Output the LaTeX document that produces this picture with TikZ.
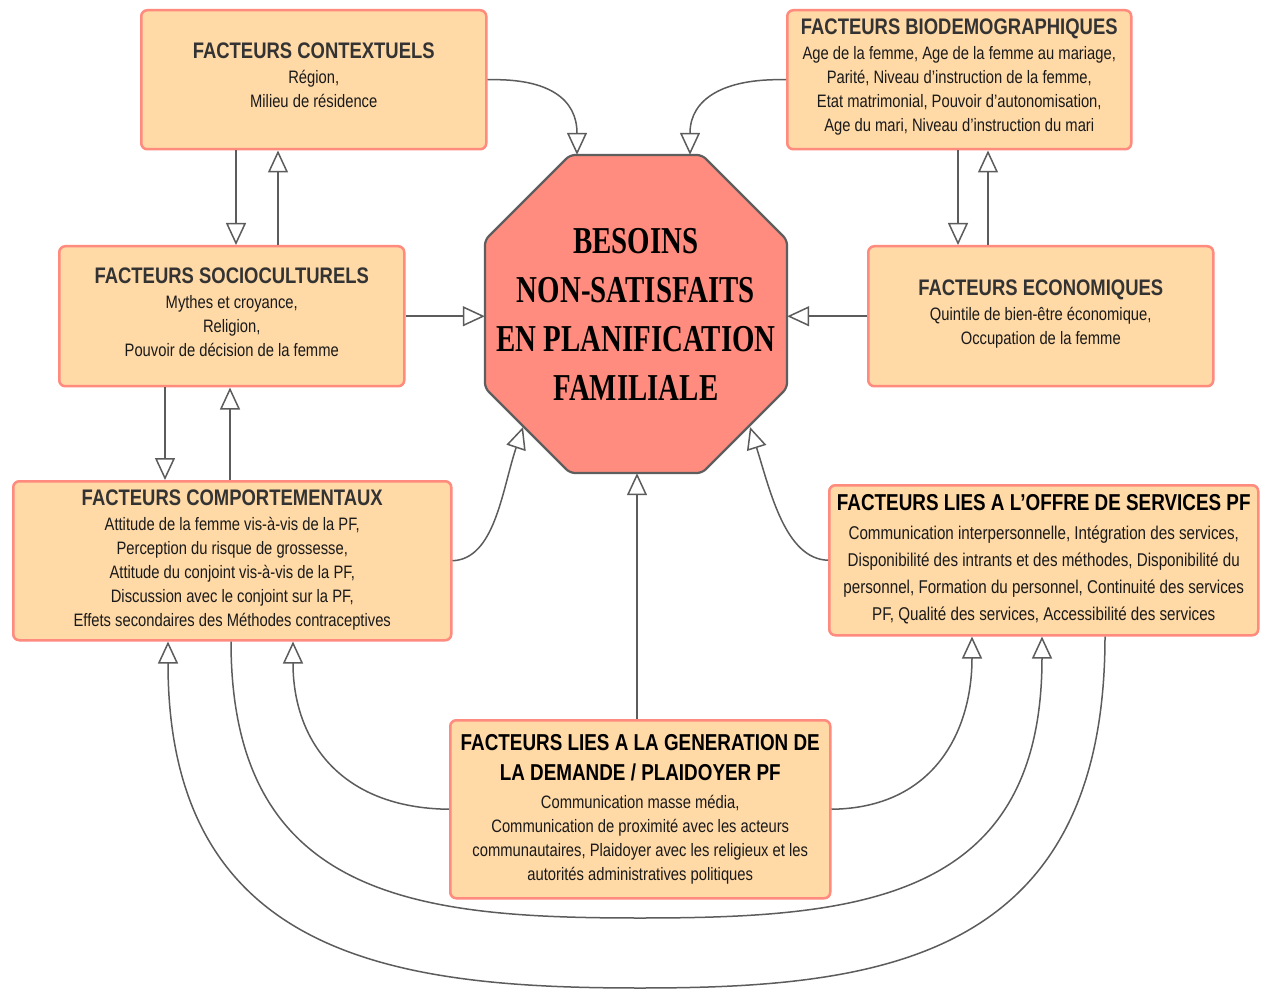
\documentclass[tikz,border=0pt]{standalone}
\usepackage{fontspec}
\setmainfont{Liberation Sans}
\newfontfamily\nar[FakeStretch=0.82]{Liberation Sans}
\newfontfamily\octf[FakeStretch=0.76]{Liberation Serif}
\usetikzlibrary{arrows.meta,calc}
\definecolor{boxfill}{HTML}{FFD9A6}
\definecolor{boxline}{HTML}{FF8A7E}
\definecolor{octfill}{HTML}{FF8C7E}
\definecolor{octline}{HTML}{5E5E5E}
\definecolor{linec}{HTML}{5C5C5C}
\definecolor{titlec}{HTML}{333333}
\definecolor{bodyc}{HTML}{1A1A1A}
\newcommand{\ttlg}{\fontsize{22.5}{27}\selectfont\bfseries\color{titlec}}
\newcommand{\ttlb}{\fontsize{23}{27}\selectfont\bfseries\color{black}}
\tikzset{
  box/.style={draw=boxline, fill=boxfill, line width=2.5pt, rounded corners=6pt,
    inner sep=0pt, anchor=north west},
  txt/.style={inner sep=0pt, align=center, text=bodyc,
    font=\nar\fontsize{18}{24}\selectfont},
  arr/.style={draw=linec, line width=1.5pt,
    -{Triangle[open, length=22pt, width=20pt]}},
}
\begin{document}
\begin{tikzpicture}[x=1pt,y=-1pt]
\useasboundingbox (0,0) rectangle (1267,992);
\fill[white] (0,0) rectangle (1267,992);

% boxes
\node[box, minimum width=345pt, minimum height=139pt] (ctx) at (140,9) {};
\node[txt] (ctxT) at ($(ctx.center)+(0,-5)$)
 {{\ttlg FACTEURS CONTEXTUELS}\\[1pt] Région,\\ Milieu de résidence};
\node[box, minimum width=344pt, minimum height=139pt] (bio) at (786,9) {};
\node[txt] (bioT) at ($(bio.center)+(0,-3)$)
 {{\ttlg FACTEURS BIODEMOGRAPHIQUES}\\[1pt] Age de la femme, Age de la femme au mariage,\\
  Parité, Niveau d’instruction de la femme,\\ Etat matrimonial, Pouvoir d’autonomisation,\\
  Age du mari, Niveau d’instruction du mari};
\node[box, minimum width=345pt, minimum height=140pt] (soc) at (58,245) {};
\node[txt] (socT) at ($(soc.center)+(0,-4)$)
 {{\ttlg FACTEURS SOCIOCULTURELS}\\[1pt] Mythes et croyance,\\ Religion,\\ Pouvoir de décision de la femme};
\node[box, minimum width=345pt, minimum height=140pt] (eco) at (867,245) {};
\node[txt] (ecoT) at ($(eco.center)+(0,-2)$)
 {{\ttlg FACTEURS ECONOMIQUES}\\[1pt] Quintile de bien-être économique,\\ Occupation de la femme};
\node[box, minimum width=438pt, minimum height=159pt] (com) at (12,480) {};
\node[txt] (comT) at ($(com.center)+(0,-0.5)$)
 {{\ttlg FACTEURS COMPORTEMENTAUX}\\[1pt] Attitude de la femme vis-à-vis de la PF,\\
  Perception du risque de grossesse,\\ Attitude du conjoint vis-à-vis de la PF,\\
  Discussion avec le conjoint sur la PF,\\ Effets secondaires des Méthodes contraceptives};
\node[box, minimum width=429pt, minimum height=150pt] (off) at (828,484) {};
\node[txt, font=\nar\fontsize{18.5}{27}\selectfont] (offT) at ($(off.center)+(0,-1)$)
 {{\ttlb FACTEURS LIES A L’OFFRE DE SERVICES PF}\\[2pt] Communication interpersonnelle, Intégration des services,\\
  Disponibilité des intrants et des méthodes, Disponibilité du\\
  personnel, Formation du personnel, Continuité des services\\
  PF, Qualité des services, Accessibilité des services};
\node[box, minimum width=380pt, minimum height=178pt] (dem) at (449,719) {};
\node[txt] (demT) at (dem.center)
 {{\ttlb FACTEURS LIES A LA GENERATION DE}\\[6pt] {\ttlb LA DEMANDE / PLAIDOYER PF}\\[4pt]
  Communication masse média,\\ Communication de proximité avec les acteurs\\
  communautaires, Plaidoyer avec les religieux et les\\ autorités administratives politiques};

% octagon
\filldraw[fill=octfill, draw=octline, line width=2.2pt, rounded corners=5pt]
  (570,155) -- (702,155) -- (787,240) -- (787,388) -- (702,473) -- (570,473)
  -- (485,388) -- (485,240) -- cycle;
\node[inner sep=0pt, minimum width=302pt, minimum height=318pt, align=center,
  font=\octf\bfseries\fontsize{38}{49}\selectfont] (oct) at (636,314)
  {BESOINS\\ NON-SATISFAITS\\ EN PLANIFICATION\\ FAMILIALE};
\coordinate (octLL) at (523,427);
\coordinate (octLR) at (750,427);

% connectors
\draw[arr] (ctx.east) .. controls (550,78) and (577,100) .. (577,0 |- oct.north);
\draw[arr] (bio.west) .. controls (722,78) and (690,100) .. (690,0 |- oct.north);
\draw[arr] (236,0 |- ctx.south) -- (236,0 |- soc.north);
\draw[arr] (278,0 |- soc.north) -- (278,0 |- ctx.south);
\draw[arr] (soc.east) -- (soc.east -| oct.west);
\draw[arr] (eco.west) -- (eco.west -| oct.east);
\draw[arr] (958,0 |- bio.south) -- (958,0 |- eco.north);
\draw[arr] (988,0 |- eco.north) -- (988,0 |- bio.south);
\draw[arr] (165,0 |- soc.south) -- (165,0 |- com.north);
\draw[arr] (230,0 |- com.north) -- (230,0 |- soc.south);
\draw[arr] (com.east) .. controls (495,559) and (502,490) .. (octLL);
\draw[arr] (off.west) .. controls (785,559) and (770,490) .. (octLR);
\draw[arr] (637,0 |- dem.north) -- (637,0 |- oct.south);
\draw[arr] (dem.west) .. controls (340,808) and (293,740) .. (293,0 |- com.south);
\draw[arr] (dem.east) .. controls (935,808) and (972,730) .. (972,0 |- off.south);
\draw[arr] (231,0 |- com.south) .. controls (231,900) and (420,918) .. (640,918)
  .. controls (860,918) and (1042,900) .. (1042,0 |- off.south);
\draw[arr] (1105,0 |- off.south) .. controls (1105,960) and (880,988) .. (640,988)
  .. controls (400,988) and (168,960) .. (168,0 |- com.south);
\end{tikzpicture}
\end{document}
